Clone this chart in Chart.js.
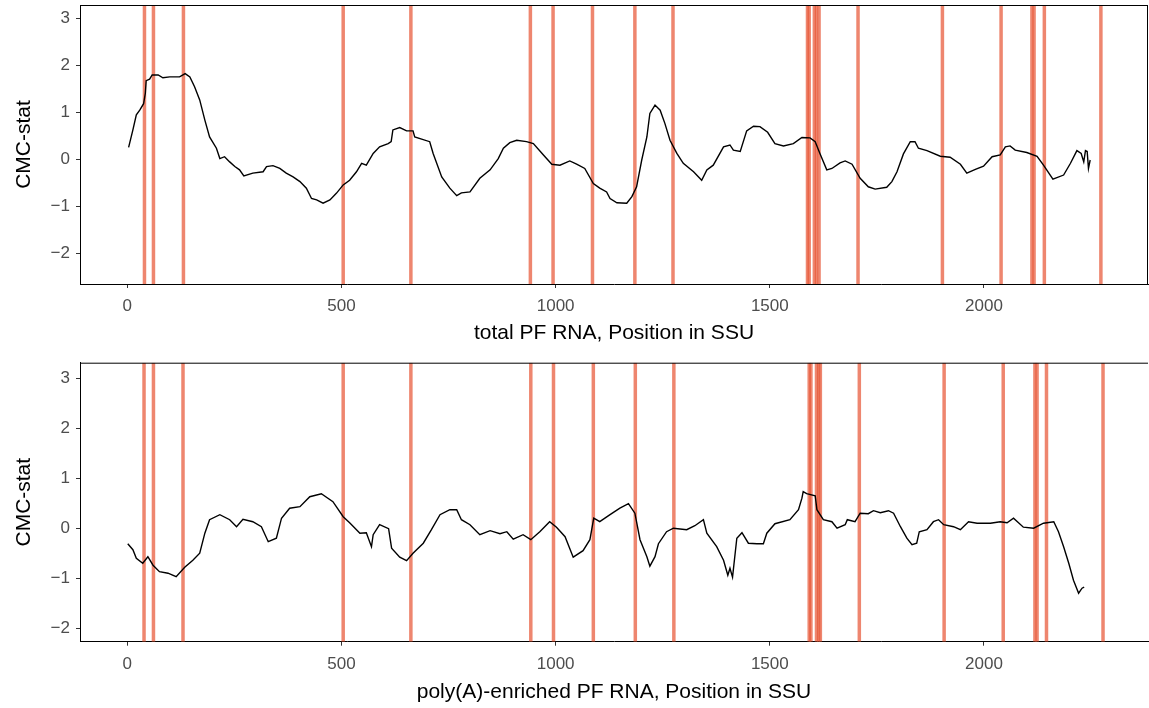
<!DOCTYPE html>
<html>
<head>
<meta charset="utf-8">
<script src="https://cdn.jsdelivr.net/npm/chart.js@4.4.1/dist/chart.umd.min.js"></script>
<style>
  html, body { margin: 0; padding: 0; background: #fff; }
  #wrap { position: relative; width: 1149px; height: 708px; }
  canvas { position: absolute; left: 0; }
</style>
</head>
<body>
<div id="wrap">
  <canvas id="topChart" width="1149" height="350" style="top:0"></canvas>
  <canvas id="bottomChart" width="1149" height="358" style="top:350px"></canvas>
</div>
<script>
"use strict";

// x ticks / y ticks shared by both panels
const xTicks = [0, 500, 1000, 1500, 2000];
const yTicks = [-2, -1, 0, 1, 2, 3];

// modification sites (vertical lines), read per panel
const topSites = [40, 61, 131, 504, 662, 941, 994, 1086, 1185, 1274, 1588, 1592, 1604, 1609, 1615, 1706, 1903, 2040, 2112, 2117, 2141, 2273];
const bottomSites = [39, 61, 130, 504, 662, 942, 995, 1088, 1186, 1276, 1592, 1596, 1609, 1614, 1618, 1709, 1907, 2045, 2119, 2124, 2146, 2278];

// [position, CMC-stat]
const totalTrace = [
	[3, 0.25], [13, 0.62], [21, 0.94], [29, 1.04], [38, 1.18], [42, 1.40], [44, 1.67], [52, 1.70],
	[58, 1.79], [72, 1.79], [83, 1.73], [99, 1.75], [122, 1.75], [135, 1.82], [146, 1.75], [157, 1.54],
	[169, 1.26], [181, 0.83], [192, 0.47], [208, 0.23], [216, 0.01], [227, 0.05], [239, -0.06], [251, -0.16],
	[262, -0.23], [272, -0.36], [293, -0.30], [317, -0.27], [325, -0.16], [340, -0.14], [356, -0.20], [371, -0.30],
	[387, -0.38], [403, -0.48], [418, -0.62], [430, -0.84], [442, -0.87], [457, -0.94], [473, -0.87], [488, -0.73],
	[504, -0.55], [519, -0.45], [535, -0.27], [547, -0.09], [558, -0.13], [574, 0.12], [589, 0.26], [609, 0.33],
	[616, 0.37], [620, 0.62], [636, 0.67], [652, 0.60], [667, 0.60], [671, 0.47], [706, 0.37], [714, 0.12],
	[734, -0.38], [753, -0.62], [769, -0.78], [780, -0.72], [800, -0.70], [823, -0.41], [847, -0.23], [866, 0.01],
	[878, 0.23], [893, 0.35], [909, 0.40], [932, 0.37], [948, 0.33], [971, 0.09], [991, -0.11], [1010, -0.13],
	[1033, -0.04], [1049, -0.11], [1068, -0.20], [1088, -0.52], [1103, -0.62], [1119, -0.70], [1127, -0.84], [1143, -0.93],
	[1166, -0.94], [1178, -0.80], [1189, -0.59], [1201, -0.02], [1213, 0.47], [1220, 0.97], [1232, 1.15], [1244, 1.04],
	[1255, 0.76], [1267, 0.40], [1283, 0.12], [1298, -0.09], [1322, -0.27], [1341, -0.45], [1353, -0.23], [1368, -0.13],
	[1392, 0.26], [1407, 0.30], [1415, 0.19], [1431, 0.16], [1446, 0.60], [1462, 0.70], [1477, 0.69], [1495, 0.57],
	[1512, 0.33], [1532, 0.28], [1555, 0.33], [1575, 0.46], [1594, 0.45], [1606, 0.37], [1617, 0.12], [1633, -0.23],
	[1645, -0.20], [1664, -0.08], [1676, -0.04], [1692, -0.11], [1711, -0.41], [1730, -0.59], [1746, -0.64], [1773, -0.60],
	[1785, -0.48], [1797, -0.27], [1812, 0.11], [1828, 0.37], [1839, 0.37], [1847, 0.23], [1867, 0.18], [1898, 0.06],
	[1921, 0.04], [1945, -0.11], [1960, -0.30], [1980, -0.22], [1999, -0.15], [2019, 0.05], [2038, 0.09], [2050, 0.26],
	[2061, 0.28], [2073, 0.19], [2100, 0.14], [2124, 0.06], [2139, -0.13], [2161, -0.43], [2186, -0.34], [2202, -0.09],
	[2217, 0.18], [2227, 0.12], [2233, -0.06], [2237, 0.18], [2241, 0.16], [2244, -0.20], [2248, -0.02]
];

const polyATrace = [
	[1, -0.31], [13, -0.43], [21, -0.60], [36, -0.70], [48, -0.57], [60, -0.74], [75, -0.87], [95, -0.90],
	[114, -0.97], [134, -0.78], [153, -0.64], [169, -0.50], [181, -0.10], [192, 0.17], [216, 0.27], [239, 0.17],
	[255, 0.03], [270, 0.18], [293, 0.13], [313, 0.03], [329, -0.27], [348, -0.20], [360, 0.20], [379, 0.40],
	[403, 0.43], [426, 0.63], [453, 0.69], [480, 0.53], [504, 0.23], [519, 0.11], [543, -0.10], [558, -0.09],
	[570, -0.37], [574, -0.13], [589, 0.07], [610, -0.01], [617, -0.40], [636, -0.58], [652, -0.65], [667, -0.50],
	[691, -0.30], [710, -0.03], [730, 0.27], [753, 0.37], [769, 0.37], [780, 0.17], [800, 0.07], [823, -0.13],
	[847, -0.05], [870, -0.11], [886, -0.07], [901, -0.22], [924, -0.13], [942, -0.23], [963, -0.07], [986, 0.13],
	[1002, 0.02], [1022, -0.17], [1041, -0.58], [1064, -0.45], [1080, -0.23], [1089, 0.20], [1103, 0.13], [1127, 0.27],
	[1150, 0.40], [1170, 0.49], [1185, 0.30], [1197, -0.23], [1213, -0.57], [1220, -0.76], [1232, -0.57], [1240, -0.31],
	[1259, -0.07], [1275, 0.00], [1306, -0.03], [1325, 0.05], [1345, 0.17], [1353, -0.10], [1376, -0.37], [1392, -0.64],
	[1402, -0.94], [1407, -0.80], [1413, -0.98], [1423, -0.20], [1435, -0.09], [1450, -0.30], [1470, -0.31], [1485, -0.31],
	[1493, -0.10], [1512, 0.09], [1547, 0.17], [1567, 0.37], [1575, 0.60], [1578, 0.73], [1586, 0.69], [1606, 0.65],
	[1610, 0.37], [1625, 0.17], [1645, 0.13], [1657, 0.00], [1676, 0.07], [1681, 0.17], [1699, 0.13], [1711, 0.30],
	[1730, 0.29], [1742, 0.35], [1758, 0.31], [1777, 0.35], [1789, 0.30], [1805, 0.03], [1820, -0.20], [1832, -0.33],
	[1843, -0.30], [1849, -0.07], [1867, -0.03], [1882, 0.13], [1894, 0.17], [1906, 0.07], [1929, 0.03], [1945, -0.03],
	[1964, 0.13], [1984, 0.10], [2015, 0.10], [2038, 0.13], [2054, 0.11], [2069, 0.20], [2092, 0.02], [2116, 0.00],
	[2139, 0.10], [2163, 0.13], [2174, -0.07], [2186, -0.37], [2198, -0.70], [2209, -1.04], [2221, -1.30], [2229, -1.20],
	[2234, -1.18]
];

const FONT = "'Liberation Sans', Arial, Helvetica, sans-serif";

// draws the red site lines under the trace
const sitesPlugin = {
	id: "sites",
	beforeDatasetsDraw(chart, args, opts) {
		const { ctx, chartArea, scales } = chart;
		ctx.save();
		ctx.beginPath();
		ctx.rect(chartArea.left, chartArea.top, chartArea.width, chartArea.height);
		ctx.clip();
		ctx.strokeStyle = "rgba(232, 88, 56, 0.72)";
		ctx.lineWidth = 3.5;
		for (const s of opts.sites) {
			const x = scales.x.getPixelForValue(s);
			ctx.beginPath();
			ctx.moveTo(x, chartArea.top);
			ctx.lineTo(x, chartArea.bottom);
			ctx.stroke();
		}
		ctx.restore();
	},
};

// top / right frame lines
const framePlugin = {
	id: "frame",
	afterDraw(chart, args, opts) {
		const { ctx, chartArea } = chart;
		ctx.save();
		ctx.strokeStyle = "#000";
		ctx.lineWidth = 1;
		ctx.beginPath();
		ctx.moveTo(chartArea.left, chartArea.top + 0.5);
		ctx.lineTo(chartArea.right, chartArea.top + 0.5);
		if (opts.right) {
			ctx.moveTo(chartArea.right - 0.5, chartArea.top);
			ctx.lineTo(chartArea.right - 0.5, chartArea.bottom);
		}
		ctx.stroke();
		ctx.restore();
	},
};

const noPad = (scale) => {
	scale.paddingTop = 0;
	scale.paddingBottom = 0;
	scale.paddingLeft = 0;
	scale.paddingRight = 0;
};

const makePanel = (id, trace, sites, cfg) => {
	const ctx = document.getElementById(id).getContext("2d");
	return new Chart(ctx, {
		type: "line",
		data: {
			datasets: [
				{
					data: trace.map((p) => ({ x: p[0], y: p[1] })),
					borderColor: "#000",
					borderWidth: 1.4,
					pointRadius: 0,
					tension: 0,
				},
			],
		},
		options: {
			responsive: false,
			animation: false,
			layout: { padding: { top: cfg.padTop, right: 1, left: 0, bottom: 0 } },
			plugins: {
				legend: { display: false },
				tooltip: { enabled: false },
				sites: { sites: sites },
				frame: { right: cfg.right },
			},
			scales: {
				x: {
					type: "linear",
					min: -110.5,
					max: 2383,
					afterBuildTicks: (scale) => {
						scale.ticks = xTicks.map((v) => ({ value: v }));
					},
					afterFit: (scale) => {
						scale.height = cfg.xHeight;
						noPad(scale);
					},
					border: { display: true, color: "#000", width: 1 },
					grid: { display: true, drawOnChartArea: false, drawTicks: true, tickLength: 4, color: "#333" },
					ticks: {
						color: "#4D4D4D",
						font: { family: FONT, size: 17 },
						padding: 8,
						maxRotation: 0,
						callback: (v) => String(v),
					},
					title: {
						display: true,
						text: cfg.xTitle,
						color: "#000",
						font: { family: FONT, size: 21 },
						padding: { top: 0, bottom: cfg.titlePad },
					},
				},
				y: {
					min: cfg.yMin,
					max: cfg.yMax,
					afterBuildTicks: (scale) => {
						scale.ticks = yTicks.map((v) => ({ value: v }));
					},
					afterFit: (scale) => {
						scale.width = 80;
						noPad(scale);
					},
					border: { display: true, color: "#000", width: 1 },
					grid: { display: true, drawOnChartArea: false, drawTicks: true, tickLength: 4, color: "#333" },
					ticks: {
						color: "#4D4D4D",
						font: { family: FONT, size: 17 },
						padding: 6,
						callback: (v) => (v < 0 ? "\u2212" + Math.abs(v) : String(v)),
					},
					title: {
						display: true,
						text: "CMC-stat",
						color: "#000",
						font: { family: FONT, size: 21 },
						padding: { top: 12, bottom: 0 },
					},
				},
			},
		},
		plugins: [sitesPlugin, framePlugin],
	});
};

makePanel("topChart", totalTrace, topSites, {
	padTop: 5,
	xHeight: 66,
	yMin: -2.66,
	yMax: 3.28,
	right: true,
	titlePad: 4,
	xTitle: "total PF RNA, Position in SSU",
});

makePanel("bottomChart", polyATrace, bottomSites, {
	padTop: 12.7,
	xHeight: 66.3,
	yMin: -2.27,
	yMax: 3.31,
	right: false,
	titlePad: 3,
	xTitle: "poly(A)-enriched PF RNA, Position in SSU",
});
</script>
</body>
</html>
